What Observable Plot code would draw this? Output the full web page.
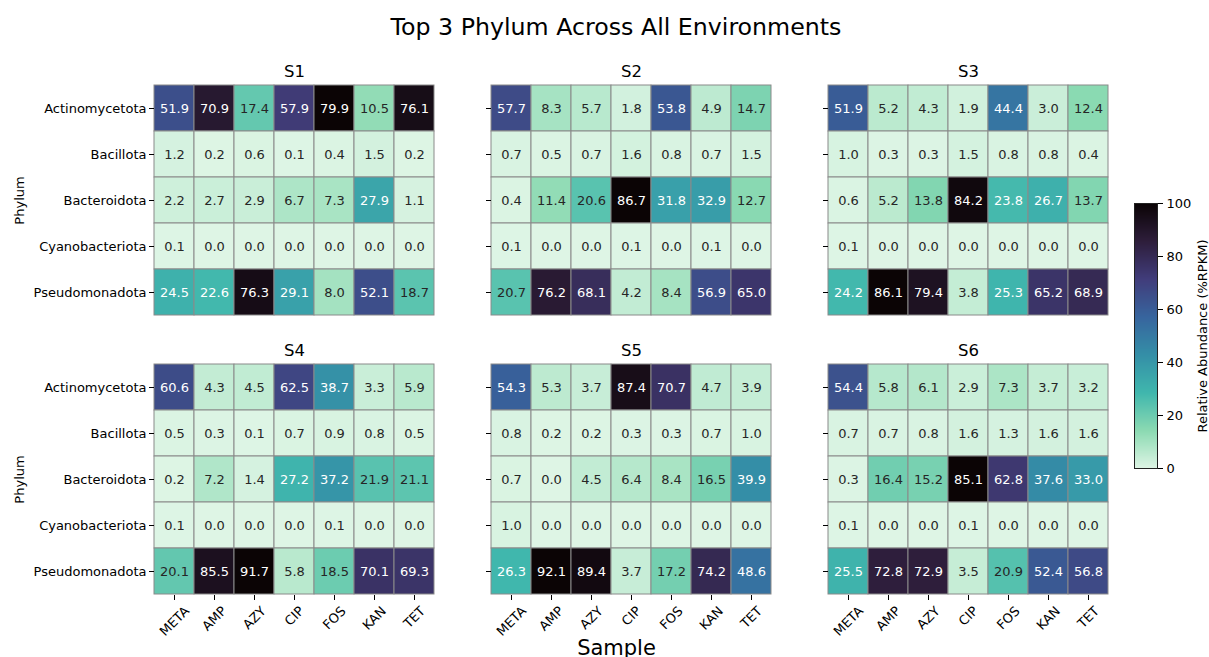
<!DOCTYPE html>
<html>
<head>
<meta charset="utf-8">
<script src="https://cdn.jsdelivr.net/npm/d3@7"></script>
<script src="https://cdn.jsdelivr.net/npm/@observablehq/plot@0.6"></script>
<style>
  body { margin: 0; background: #fff; }
  #fig { position: relative; width: 1209px; height: 657px; overflow: hidden;
         font-family: "DejaVu Sans", sans-serif; color: #000; background: #fff; }
  #fig > * { position: absolute; }
  #title { left: 316px; width: 600px; top: 15px; text-align: center;
           font-size: 23.7px; line-height: 24px; white-space: nowrap; }
</style>
</head>
<body>
<div id="fig"><div id="title">Top 3 Phylum Across All Environments</div></div>
<script>
// Categories
const samples = ["META", "AMP", "AZY", "CIP", "FOS", "KAN", "TET"];
const phyla = ["Actinomycetota", "Bacillota", "Bacteroidota", "Cyanobacteriota", "Pseudomonadota"];
const sites = ["S1", "S2", "S3", "S4", "S5", "S6"];

// Relative abundance (%RPKM): one row per phylum, one column per sample
const s1 = [
  [51.9, 70.9, 17.4, 57.9, 79.9, 10.5, 76.1],
  [1.2, 0.2, 0.6, 0.1, 0.4, 1.5, 0.2],
  [2.2, 2.7, 2.9, 6.7, 7.3, 27.9, 1.1],
  [0.1, 0.0, 0.0, 0.0, 0.0, 0.0, 0.0],
  [24.5, 22.6, 76.3, 29.1, 8.0, 52.1, 18.7]
];
const s2 = [
  [57.7, 8.3, 5.7, 1.8, 53.8, 4.9, 14.7],
  [0.7, 0.5, 0.7, 1.6, 0.8, 0.7, 1.5],
  [0.4, 11.4, 20.6, 86.7, 31.8, 32.9, 12.7],
  [0.1, 0.0, 0.0, 0.1, 0.0, 0.1, 0.0],
  [20.7, 76.2, 68.1, 4.2, 8.4, 56.9, 65.0]
];
const s3 = [
  [51.9, 5.2, 4.3, 1.9, 44.4, 3.0, 12.4],
  [1.0, 0.3, 0.3, 1.5, 0.8, 0.8, 0.4],
  [0.6, 5.2, 13.8, 84.2, 23.8, 26.7, 13.7],
  [0.1, 0.0, 0.0, 0.0, 0.0, 0.0, 0.0],
  [24.2, 86.1, 79.4, 3.8, 25.3, 65.2, 68.9]
];
const s4 = [
  [60.6, 4.3, 4.5, 62.5, 38.7, 3.3, 5.9],
  [0.5, 0.3, 0.1, 0.7, 0.9, 0.8, 0.5],
  [0.2, 7.2, 1.4, 27.2, 37.2, 21.9, 21.1],
  [0.1, 0.0, 0.0, 0.0, 0.1, 0.0, 0.0],
  [20.1, 85.5, 91.7, 5.8, 18.5, 70.1, 69.3]
];
const s5 = [
  [54.3, 5.3, 3.7, 87.4, 70.7, 4.7, 3.9],
  [0.8, 0.2, 0.2, 0.3, 0.3, 0.7, 1.0],
  [0.7, 0.0, 4.5, 6.4, 8.4, 16.5, 39.9],
  [1.0, 0.0, 0.0, 0.0, 0.0, 0.0, 0.0],
  [26.3, 92.1, 89.4, 3.7, 17.2, 74.2, 48.6]
];
const s6 = [
  [54.4, 5.8, 6.1, 2.9, 7.3, 3.7, 3.2],
  [0.7, 0.7, 0.8, 1.6, 1.3, 1.6, 1.6],
  [0.3, 16.4, 15.2, 85.1, 62.8, 37.6, 33.0],
  [0.1, 0.0, 0.0, 0.1, 0.0, 0.0, 0.0],
  [25.5, 72.8, 72.9, 3.5, 20.9, 52.4, 56.8]
];
const siteValues = [s1, s2, s3, s4, s5, s6];

// Colour bar ticks
const cbTicks = [0, 20, 40, 60, 80, 100];

// Reversed "mako" colour ramp (light green -> near black)
const makoStops = ["#0b0405", "#2e1e3b", "#413d7b", "#37659e", "#348fa7", "#40b7ad", "#8bdab2", "#def5e5"];
const mako = d3.piecewise(d3.interpolateRgb, makoStops);
const makoR = t => mako(1 - Math.max(0, Math.min(1, t)));

// Relative luminance, used to pick light or dark annotation text
function luminance(c) {
  const { r, g, b } = d3.rgb(c);
  const f = v => { v /= 255; return v <= 0.03928 ? v / 12.92 : Math.pow((v + 0.055) / 1.055, 2.4); };
  return 0.2126 * f(r) + 0.7152 * f(g) + 0.0722 * f(b);
}

const fig = document.getElementById("fig");
const FONT = "DejaVu Sans";
const ctx = document.createElement("canvas").getContext("2d");
ctx.font = `13px "${FONT}"`;

const cellW = 280, cellH = 232, colStep = 337;
const rowTops = [84, 363];

function place(svg, left, top) {
  svg.style.position = "absolute";
  svg.style.left = left + "px";
  svg.style.top = top + "px";
  fig.appendChild(svg);
}

function heatmap(name, values, col, row) {
  const data = phyla.flatMap((p, i) => samples.map((s, j) => ({ phylum: p, sample: s, value: values[i][j] })));
  const [vmin, vmax] = d3.extent(data, d => d.value);
  const colorOf = v => makoR((v - vmin) / (vmax - vmin));
  const isDark = d => luminance(colorOf(d.value)) <= 0.408;
  const left = col === 0, bottom = row === 1;
  const mL = left ? 154 : 20, mT = 40, mR = 10, mB = bottom ? 66 : 10;
  const cellLeft = 154 + col * colStep, cellTop = rowTops[row];

  const marks = [
    Plot.cell(data, { x: "sample", y: "phylum", fill: "value", stroke: "#8a8a8a", strokeWidth: 1, inset: 0 }),
    Plot.text(data.filter(isDark), { x: "sample", y: "phylum", text: d => d.value.toFixed(1), fill: "white", fontSize: 13 }),
    Plot.text(data.filter(d => !isDark(d)), { x: "sample", y: "phylum", text: d => d.value.toFixed(1), fill: "#262626", fontSize: 13 }),
    Plot.axisY({ tickSize: 5, tickPadding: 3, label: null, fontSize: 13,
                 tickFormat: left ? d => d : () => "" }),
    Plot.text([name], { frameAnchor: "top", dy: -8, textAnchor: "middle", lineAnchor: "bottom", fontSize: 16.5, fill: "black" })
  ];
  if (left) {
    marks.push(Plot.text(["Phylum"], { frameAnchor: "left", rotate: -90, dx: -135,
      textAnchor: "middle", lineAnchor: "middle", fontSize: 13, fill: "black" }));
  }
  if (bottom) {
    marks.push(Plot.axisX({ tickSize: 5, tickFormat: () => "", label: null }));
    // rotated sample names, each centred under its tick
    for (const s of samples) {
      const w = ctx.measureText(s).width;
      marks.push(Plot.text([s], { x: d => d, frameAnchor: "bottom", rotate: -45,
        textAnchor: "middle", lineAnchor: "middle", fontSize: 13, fill: "black",
        dy: 10 + (w + 9.5) * 0.3535 }));
    }
    if (col === 1) {
      marks.push(Plot.text(["Sample"], { frameAnchor: "bottom", dy: 53, dx: -15,
        textAnchor: "middle", lineAnchor: "middle", fontSize: 21, fill: "black" }));
    }
  }

  const svg = Plot.plot({
    width: mL + cellW + mR,
    height: mT + cellH + mB,
    marginLeft: mL, marginRight: mR, marginTop: mT, marginBottom: mB,
    style: { fontFamily: FONT, fontSize: "13px", color: "black", background: "transparent", overflow: "visible" },
    x: { domain: samples, padding: 0, axis: bottom ? undefined : null },
    y: { domain: phyla, padding: 0 },
    color: { type: "linear", domain: [vmin, vmax], interpolate: makoR },
    marks
  });
  place(svg, cellLeft - mL, cellTop - mT);
}

sites.forEach((name, k) => heatmap(name, siteValues[k], k % 3, Math.floor(k / 3)));

// Colour bar
(function colorbar() {
  const bL = 1134, bT = 203, bW = 23, bH = 265;
  const mL = 1, mR = 74, mT = 10, mB = 10;
  const svg = Plot.plot({
    width: mL + bW + mR, height: mT + bH + mB,
    marginLeft: mL, marginRight: mR, marginTop: mT, marginBottom: mB,
    style: { fontFamily: FONT, fontSize: "13px", color: "black", background: "transparent", overflow: "visible" },
    x: { domain: [0, 1], axis: null },
    y: { domain: [0, 100] },
    color: { type: "linear", domain: [0, 100], interpolate: makoR },
    marks: [
      Plot.raster({ x1: 0, x2: 1, y1: 0, y2: 100, fill: (x, y) => y }),
      Plot.frame({ stroke: "#222", strokeWidth: 1 }),
      Plot.axisY({ anchor: "right", ticks: cbTicks, tickSize: 5, tickPadding: 4, label: null }),
      Plot.text(["Relative Abundance (%RPKM)"], { frameAnchor: "right", rotate: -90, dx: 45,
        textAnchor: "middle", lineAnchor: "middle", fontSize: 13, fill: "black" })
    ]
  });
  place(svg, bL - mL, bT - mT);
})();
</script>
</body>
</html>
